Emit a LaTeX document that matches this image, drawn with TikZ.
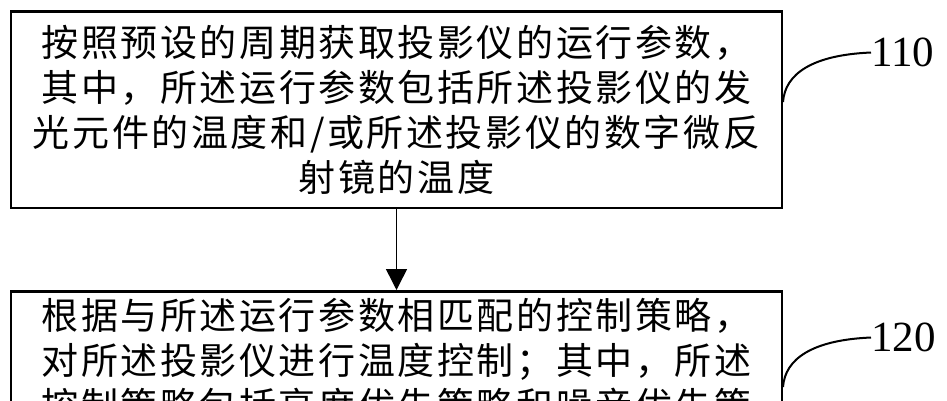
\documentclass[tikz,border=0pt]{standalone}
\usepackage{fontspec}
\setmainfont{Liberation Serif}
\newfontfamily\cjk[LetterSpace=7]{Noto Sans CJK SC}
\usetikzlibrary{arrows.meta}
\begin{document}
\begin{tikzpicture}[x=1pt,y=-1pt,
  box/.style={draw=black, line width=2.5pt, minimum width=771pt, align=center, inner sep=0pt,
    font=\cjk\fontsize{37}{45}\selectfont},
  lbl/.style={font=\fontsize{43}{43}\selectfont, inner sep=0pt, anchor=west},
  lead/.style={line width=2pt},
  flow/.style={line width=1.5pt, -{Triangle[length=21pt,width=21pt]}}]
\useasboundingbox (0,0) rectangle (947,400);
\fill[white] (0,0) rectangle (947,400);
\node[box, minimum height=196.5pt] (b1) at (396.5,109.5)
  {按照预设的周期获取投影仪的运行参数，\\其中，所述运行参数包括所述投影仪的发\\光元件的温度和/或所述投影仪的数字微反\\射镜的温度};
\node[box, anchor=north, inner ysep=7pt] (b2) at (396.5,290)
  {根据与所述运行参数相匹配的控制策略，\\对所述投影仪进行温度控制；其中，所述\\控制策略包括亮度优先策略和噪音优先策};
\draw[flow] (b1.south) -- (b2.north);
\node[lbl] (l110) at (871,52.5) {110};
\node[lbl] (l120) at (871,337.5) {120};
\coordinate (s110) at (783,102);
\coordinate (s120) at (783,387);
\draw[lead] (s110) .. controls (785,74) and (812,55) .. (l110.west);
\draw[lead] (s120) .. controls (785,359) and (812,340) .. (l120.west);
\end{tikzpicture}
\end{document}
